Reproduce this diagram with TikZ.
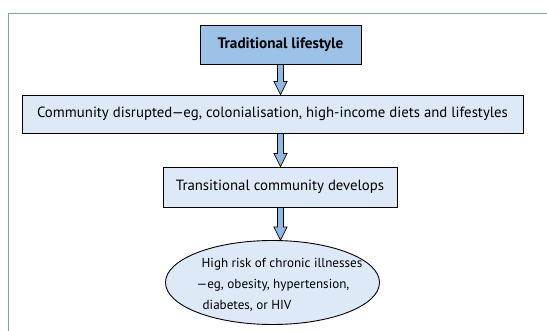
\documentclass[tikz,border=0pt]{standalone}
\usepackage{fontspec}
\setmainfont{PT Sans}
\usetikzlibrary{calc,shapes.geometric}
\definecolor{darkfill}{HTML}{9CC2E8}
\definecolor{lightfill}{HTML}{DDE9F6}
\definecolor{arrowfill}{HTML}{8FB8E3}
\definecolor{framecol}{HTML}{7BA89A}
\tikzset{
  boxbase/.style={draw=black, line width=0.9pt, inner sep=0pt, font=\fontsize{14.8}{17}\selectfont},
  darkbox/.style={boxbase, fill=darkfill, font=\fontsize{15.2}{17}\selectfont\bfseries},
  lightbox/.style={boxbase, fill=lightfill},
  fatarrow/.style={draw=black, line width=0.7pt, fill=arrowfill, line join=miter},
}
\begin{document}
\begin{tikzpicture}[x=1pt,y=-1pt]
\useasboundingbox (0,0) rectangle (547,331);
\draw[framecol, line width=1pt] (8.5,331) -- (8.5,13.5) -- (547,13.5);
\node[darkbox, minimum width=161pt, minimum height=39pt] (t) at (280.5,44.5) {Traditional lifestyle};
\node[lightbox, minimum width=501pt, minimum height=38pt] (c) at (272.5,114) {Community disrupted\kern-0.5pt---\kern-0.5pt eg, colonialisation, high-income diets and lifestyles};
\node[lightbox, minimum width=234pt, minimum height=40pt] (tr) at (280,187) {Transitional community develops};
\node[lightbox, ellipse, inner sep=0pt, minimum width=214pt, minimum height=84pt] (e) at (272.5,282.5) {};
\node[font=\fontsize{13.1}{21}\selectfont, align=left, inner sep=0pt] (etext) at ([xshift=7pt,yshift=-2pt]e.center) {\hspace{5pt}High risk of chronic illnesses\\---eg, obesity, hypertension,\\\hspace{6pt}diabetes, or HIV};
\foreach \a/\b in {t/c, c/tr, tr/e}{
  \path let \p0=(t.south), \p1=(\a.south), \p2=(\b.north) in
    coordinate (tip) at (\x0,\y2);
  \path let \p0=(t.south), \p1=(\a.south), \p2=(tip) in
    [fatarrow] (\x0-3pt,\y1) -- (\x0-3pt,\y2+13pt) -- (\x0-6.5pt,\y2+13pt) -- (\x0,\y2) -- (\x0+6.5pt,\y2+13pt) -- (\x0+3pt,\y2+13pt) -- (\x0+3pt,\y1) -- cycle;
}
\end{tikzpicture}
\end{document}
